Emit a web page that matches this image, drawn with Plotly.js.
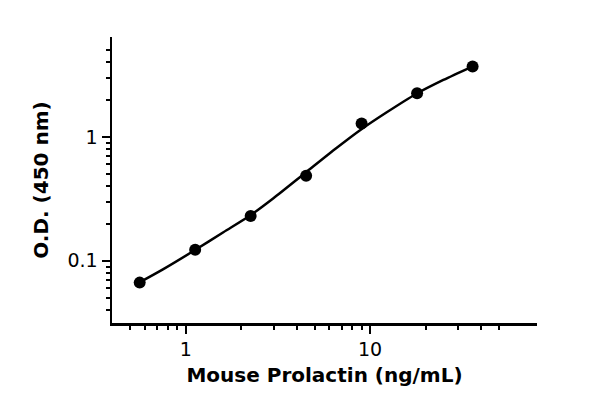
<!DOCTYPE html>
<html>
<head>
<meta charset="utf-8">
<script src="https://cdn.plot.ly/plotly-3.0.1.min.js"></script>
<style>
  html, body { margin: 0; padding: 0; background: #fff; }
  #chart { width: 600px; height: 409px; }
</style>
</head>
<body>
<div id="chart"></div>
<script>
// Standards (ng/mL) et densité optique mesurée
const concentrations = [0.5625, 1.125, 2.25, 4.5, 9, 18, 36];
const odValues = [0.0667, 0.1227, 0.230, 0.486, 1.285, 2.25, 3.70];

// Courbe d'ajustement
const fitX = [0.558, 0.756, 1.123, 1.600, 2.233, 2.99, 4.48, 6.60, 8.90, 12.32, 17.77, 24.98, 35.6];
const fitY = [0.0667, 0.0857, 0.1222, 0.170, 0.232, 0.320, 0.517, 0.817, 1.143, 1.58, 2.22, 2.88, 3.68];

// Graduations
const xTickVals = [1, 10];
const xTickText = ['1', '10'];
const xMinorVals = [0.5, 0.6, 0.7, 0.8, 0.9, 2, 3, 4, 5, 6, 7, 8, 9, 20, 30, 40, 50];
const yTickVals = [0.1, 1];
const yTickText = ['0.1', '1'];
const yMinorVals = [0.04, 0.05, 0.06, 0.07, 0.08, 0.09, 0.2, 0.3, 0.4, 0.5, 0.6, 0.7, 0.8, 0.9, 2, 3, 4, 5];

const fit = {
  x: fitX,
  y: fitY,
  type: 'scatter',
  mode: 'lines',
  line: { color: '#000', width: 2.5, shape: 'spline', smoothing: 0.8 },
  hoverinfo: 'skip',
};

const points = {
  x: concentrations,
  y: odValues,
  type: 'scatter',
  mode: 'markers',
  marker: { size: 12, color: '#000' },
  hovertemplate: '%{x} ng/mL<br><b>%{y:.3f}</b><extra></extra>',
};

const titleFont = { family: 'DejaVu Sans, sans-serif', size: 20, color: '#000', weight: 'bold' };
const tickFont = { family: 'DejaVu Sans, sans-serif', size: 19, color: '#000' };

const layout = {
  width: 600,
  height: 409,
  margin: { t: 37, r: 63, b: 86, l: 112 },
  paper_bgcolor: '#fff',
  plot_bgcolor: '#fff',
  showlegend: false,
  xaxis: {
    type: 'log',
    range: [Math.log10(0.398), Math.log10(80.5)],
    tickmode: 'array',
    tickvals: xTickVals,
    ticktext: xTickText,
    ticks: 'outside',
    ticklen: 8,
    tickwidth: 2,
    tickcolor: '#000',
    minor: { tickmode: 'array', tickvals: xMinorVals, ticks: 'outside', ticklen: 4, tickwidth: 2, tickcolor: '#000', showgrid: false },
    showline: true,
    linewidth: 2.5,
    linecolor: '#000',
    showgrid: false,
    zeroline: false,
    tickfont: tickFont,
    title: { text: 'Mouse Prolactin (ng/mL)', font: titleFont, standoff: 9 },
  },
  yaxis: {
    type: 'log',
    range: [Math.log10(0.0315), Math.log10(6.4)],
    tickmode: 'array',
    tickvals: yTickVals,
    ticktext: yTickText,
    ticks: 'outside',
    ticklen: 8,
    tickwidth: 2,
    tickcolor: '#000',
    minor: { tickmode: 'array', tickvals: yMinorVals, ticks: 'outside', ticklen: 4, tickwidth: 2, tickcolor: '#000', showgrid: false },
    showline: true,
    linewidth: 2.5,
    linecolor: '#000',
    showgrid: false,
    zeroline: false,
    tickfont: tickFont,
    title: { text: 'O.D. (450 nm)', font: titleFont, standoff: 14 },
  },
};

Plotly.newPlot('chart', [fit, points], layout, { displayModeBar: false, staticPlot: true });
</script>
</body>
</html>
